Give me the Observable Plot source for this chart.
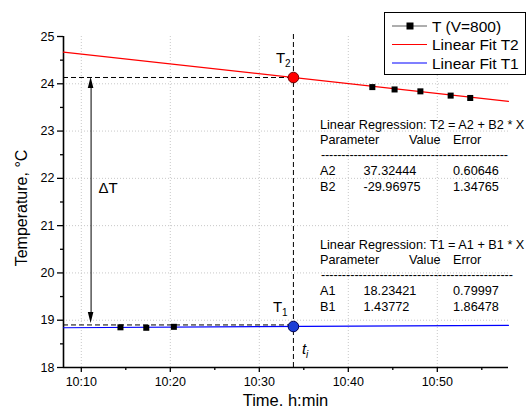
<!DOCTYPE html>
<html><head><meta charset="utf-8">
<script src="https://cdn.jsdelivr.net/npm/d3@7"></script>
<script src="https://cdn.jsdelivr.net/npm/@observablehq/plot@0.6"></script>
<style>
body{margin:0;background:#fff;}
#chart{width:526px;height:412px;}
</style></head><body><div id="chart"></div>
<script>
const t = s => { const [h, m, sec] = s.split(":").map(Number); return new Date(Date.UTC(2000, 0, 1, h, m, sec || 0)); };

// ---- data ----
const xDomain = ["10:08:00", "10:58:00"];
const yDomain = [18, 25];
const xTicks = ["10:10", "10:20", "10:30", "10:40", "10:50"];
const xMinorTicks = ["10:15", "10:25", "10:35", "10:45", "10:55"];
const yTicks = [18, 19, 20, 21, 22, 23, 24, 25];
const yMinorTicks = [18.5, 19.5, 20.5, 21.5, 22.5, 23.5, 24.5];
const yGrid = [19, 20, 21, 22, 23, 24];

const seriesTime = ["10:14:24", "10:17:18", "10:20:24", "10:42:42", "10:45:12", "10:48:06", "10:51:30", "10:53:42"];
const seriesTemp = [18.85, 18.84, 18.86, 23.93, 23.88, 23.84, 23.75, 23.70];

const fitTime = ["10:08:00", "10:58:00"];
const fit2Temp = [24.670, 23.630];
const fit1Temp = [18.841, 18.891];

const tiTime = "10:33:50";
const T2value = 24.133;
const T1value = 18.867;
const T1dashed = 18.9;
const arrowTime = "10:11:06";
const arrowTemps = [24.133, 18.93];

const legendLabels = ["T (V=800)", "Linear Fit T2", "Linear Fit T1"];

const reg2Title = "Linear Regression: T2 = A2 + B2 * X";
const reg2Params = ["A2", "B2"];
const reg2Values = ["37.32444", "-29.96975"];
const reg2Errors = ["0.60646", "1.34765"];
const reg1Title = "Linear Regression: T1 = A1 + B1 * X";
const reg1Params = ["A1", "B1"];
const reg1Values = ["18.23421", "1.43772"];
const reg1Errors = ["0.79997", "1.86478"];
const tableHeader = ["Parameter", "Value", "Error"];

const xLabel = "Time. h:min";
const yLabel = "Temperature, °C";

// ---- derived tables ----
const series = seriesTime.map((s, i) => ({x: t(s), y: seriesTemp[i]}));
const fit2 = fitTime.map((s, i) => ({x: t(s), y: fit2Temp[i]}));
const fit1 = fitTime.map((s, i) => ({x: t(s), y: fit1Temp[i]}));
const ti = t(tiTime);
const x0 = t(xDomain[0]);

const FONT = "'Liberation Sans', Arial, Helvetica, sans-serif";

const plot = Plot.plot({
  width: 526, height: 412,
  marginLeft: 63, marginRight: 18, marginTop: 36, marginBottom: 45,
  style: {fontFamily: FONT, fontSize: "12.5px", color: "black", background: "white"},
  x: {type: "utc", domain: xDomain.map(t)},
  y: {domain: yDomain},
  marks: [
    Plot.gridX(xTicks.map(t), {stroke: "#c8c8c8", strokeOpacity: 1, strokeDasharray: "1,2"}),
    Plot.gridY(yGrid, {stroke: "#c8c8c8", strokeOpacity: 1, strokeDasharray: "1,2"}),
    Plot.axisX({ticks: xTicks.map(t), tickFormat: d3.utcFormat("%H:%M"), tickSize: 5, tickPadding: 5, label: null, strokeWidth: 1.3}),
    Plot.axisX({ticks: xMinorTicks.map(t), tickSize: 3, fill: "none", label: null, strokeWidth: 1.3}),
    Plot.axisY({ticks: yTicks, tickFormat: d => String(d), tickSize: 6, tickPadding: 3, label: null, strokeWidth: 1.3}),
    Plot.axisY({ticks: yMinorTicks, tickSize: 3, fill: "none", label: null, strokeWidth: 1.3}),
    Plot.ruleX([x0], {y1: yDomain[0], y2: yDomain[1], strokeWidth: 1.6}),
    Plot.ruleY([yDomain[0]], {x1: x0, x2: t(xDomain[1]), strokeWidth: 1.6}),
    // dashed guides
    Plot.ruleY([T2value], {x1: x0, x2: ti, strokeDasharray: "5,3", strokeWidth: 1}),
    Plot.ruleY([T1dashed], {x1: x0, x2: ti, strokeDasharray: "5,3", strokeWidth: 1}),
    Plot.ruleX([ti], {y1: yDomain[0], y2: 25.08, strokeDasharray: "5,3", strokeWidth: 1}),
    // arrow shaft
    Plot.ruleX([t(arrowTime)], {y1: arrowTemps[0] - 0.15, y2: arrowTemps[1] + 0.15, strokeWidth: 1}),
    // fits
    Plot.line(fit2, {x: "x", y: "y", stroke: "#ff0000", strokeWidth: 1.2}),
    Plot.line(fit1, {x: "x", y: "y", stroke: "#0000ff", strokeWidth: 1.2}),
    // data
    Plot.dot(series, {x: "x", y: "y", symbol: "square", r: 3.4, fill: "black", stroke: "none"}),
    Plot.dot([{x: ti, y: T2value}], {x: "x", y: "y", r: 5.3, fill: "#ff0000", stroke: "#700000", strokeWidth: 1}),
    Plot.dot([{x: ti, y: T1value}], {x: "x", y: "y", r: 5.3, fill: "#1d3fd6", stroke: "#000050", strokeWidth: 1})
  ]
});
document.getElementById("chart").append(plot);

const svg = d3.select(plot);
const X = plot.scale("x"), Y = plot.scale("y");
const g = svg.append("g").attr("font-family", FONT).attr("fill", "black").attr("text-anchor", "start");

// arrow heads
const ax = X.apply(t(arrowTime));
const ay1 = Y.apply(arrowTemps[0]), ay2 = Y.apply(arrowTemps[1]);
g.append("path").attr("d", `M${ax},${ay1} L${ax - 2.8},${ay1 + 11} L${ax + 2.8},${ay1 + 11} Z`).attr("fill", "black");
g.append("path").attr("d", `M${ax},${ay2} L${ax - 2.8},${ay2 - 11} L${ax + 2.8},${ay2 - 11} Z`).attr("fill", "black");
g.append("text").attr("x", ax + 8).attr("y", (ay1 + ay2) / 2 - 7).attr("font-size", "15px").text("ΔT");

// T2, T1, ti labels
const tx = X.apply(ti);
const t2y = Y.apply(T2value), t1y = Y.apply(T1value), by = Y.apply(yDomain[0]);
const lbl2 = g.append("text").attr("x", tx - 17).attr("y", t2y - 14).attr("font-size", "15px");
lbl2.append("tspan").text("T");
lbl2.append("tspan").attr("font-size", "10px").attr("dy", 4).text("2");
const lbl1 = g.append("text").attr("x", tx - 20).attr("y", t1y - 14).attr("font-size", "15px");
lbl1.append("tspan").text("T");
lbl1.append("tspan").attr("font-size", "10px").attr("dy", 4).text("1");
const lbli = g.append("text").attr("x", tx + 9).attr("y", by - 13).attr("font-size", "15px").attr("font-style", "italic");
lbli.append("tspan").text("t");
lbli.append("tspan").attr("font-size", "10px").attr("dy", 4).text("i");

// axis titles
g.append("text").attr("x", (63 + 508) / 2).attr("y", 406).attr("text-anchor", "middle").attr("font-size", "16.5px").text(xLabel);
g.append("text").attr("transform", "translate(27,208) rotate(-90)").attr("text-anchor", "middle").attr("font-size", "16px").text(yLabel);

// legend
const lg = g.append("g");
lg.append("rect").attr("x", 384.5).attr("y", 12.5).attr("width", 141).attr("height", 62).attr("fill", "white").attr("stroke", "black").attr("stroke-width", 1);
const rows = [26, 44.5, 63];
const legendStroke = ["#333", "#ff0000", "#0000ff"];
legendLabels.forEach((lab, i) => {
  lg.append("line").attr("x1", 392).attr("x2", 427).attr("y1", rows[i]).attr("y2", rows[i]).attr("stroke", legendStroke[i]).attr("stroke-width", i === 0 ? 0.8 : 1.2);
  if (i === 0) lg.append("rect").attr("x", 406.5).attr("y", rows[i] - 3.5).attr("width", 7).attr("height", 7).attr("fill", "black");
  lg.append("text").attr("x", 432).attr("y", rows[i]).attr("dy", "0.36em").attr("font-size", "15.5px").text(lab);
});

// regression tables
function table(top, title, params, values, errors, dashEnd) {
  const tg = g.append("g").attr("font-size", "12.7px");
  tg.append("text").attr("x", 320).attr("y", top).text(title);
  tg.append("text").attr("x", 320).attr("y", top + 15).text(tableHeader[0]);
  tg.append("text").attr("x", 409).attr("y", top + 15).text(tableHeader[1]);
  tg.append("text").attr("x", 453).attr("y", top + 15).text(tableHeader[2]);
  tg.append("text").attr("x", 321).attr("y", top + 30).attr("textLength", dashEnd - 321).attr("lengthAdjust", "spacing").text("-".repeat(46));
  params.forEach((p, i) => {
    const yy = top + 46 + i * 16;
    tg.append("text").attr("x", 320).attr("y", yy).text(p);
    tg.append("text").attr("x", 363.5).attr("y", yy).text(values[i]);
    tg.append("text").attr("x", 453).attr("y", yy).text(errors[i]);
  });
}
table(128.5, reg2Title, reg2Params, reg2Values, reg2Errors, 508);
table(248.5, reg1Title, reg1Params, reg1Values, reg1Errors, 513);
</script></body></html>
